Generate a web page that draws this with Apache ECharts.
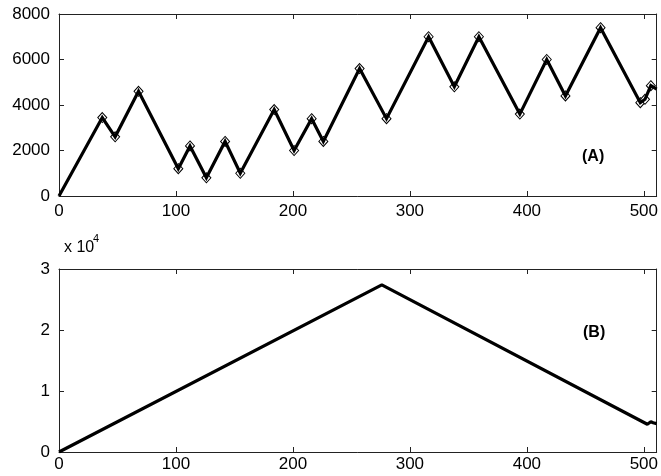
<!DOCTYPE html>
<html>
<head>
<meta charset="utf-8">
<script src="https://cdn.jsdelivr.net/npm/echarts@6/dist/echarts.min.js"></script>
<style>html,body{margin:0;padding:0;background:#fff}#c{width:661px;height:476px}</style>
</head>
<body>
<div id="c"></div>
<script>
// Panel A: turning points of the walk
const xA = [0, 37, 48, 68, 102, 112, 126, 142, 155, 184, 201, 216, 226, 257, 280, 316, 338, 359, 394, 417, 433, 463, 497, 501, 506, 511];
const yA = [0, 3450, 2600, 4600, 1200, 2200, 800, 2400, 1000, 3800, 2000, 3400, 2400, 5600, 3400, 7000, 4800, 7000, 3600, 6000, 4400, 7400, 4100, 4250, 4850, 4700];
// Panel B
const xB = [0, 276, 503, 506, 508, 511];
const yB = [0, 27400, 4550, 4950, 4800, 4650];
// ticks
const xTicks = [0, 100, 200, 300, 400, 500];
const yTicksA = [0, 2000, 4000, 6000, 8000];
const yTicksB = [0, 1, 2, 3];

const FONT = 'Liberation Sans, Arial, sans-serif';
const X_MAX = 511;

const ptsA = xA.map((x, i) => [x, yA[i]]);
const marksA = ptsA.slice(1, ptsA.length - 1);
const ptsB = xB.map((x, i) => [x, yB[i]]);

function xAxes(gridIndex, labelMargin) {
  const base = {
    type: 'value', gridIndex, min: 0, max: X_MAX, interval: 100,
    axisLine: { show: true, onZero: false, lineStyle: { color: '#222', width: 1 } },
    axisTick: { show: true, inside: true, length: 5, lineStyle: { color: '#222' } },
    splitLine: { show: false }
  };
  return [
    Object.assign({}, base, {
      position: 'bottom',
      axisLabel: { show: true, margin: labelMargin, color: '#000', fontSize: 17, fontFamily: FONT,
        showMaxLabel: false,
        formatter: v => (xTicks.indexOf(v) >= 0 ? String(v) : '') }
    }),
    Object.assign({}, base, { position: 'top', axisLabel: { show: false } })
  ];
}
function yAxes(gridIndex, max, interval, fmt) {
  const base = {
    type: 'value', gridIndex, min: 0, max, interval,
    axisLine: { show: true, onZero: false, lineStyle: { color: '#222', width: 1 } },
    axisTick: { show: true, inside: true, length: 5, lineStyle: { color: '#222' } },
    splitLine: { show: false }
  };
  return [
    Object.assign({}, base, {
      position: 'left',
      axisLabel: { show: true, margin: 9, color: '#000', fontSize: 17, fontFamily: FONT, formatter: fmt }
    }),
    Object.assign({}, base, { position: 'right', axisLabel: { show: false } })
  ];
}

const chart = echarts.init(document.getElementById('c'), null, { renderer: 'canvas' });
chart.setOption({
  animation: false,
  backgroundColor: '#fff',
  grid: [
    { left: 59, top: 14, width: 601, height: 182, containLabel: false },
    { left: 59, top: 269, width: 601, height: 183, containLabel: false }
  ],
  xAxis: [...xAxes(0, 7), ...xAxes(1, 4)],
  yAxis: [
    ...yAxes(0, 8000, 2000, v => (yTicksA.indexOf(v) >= 0 ? String(v) : '')),
    ...yAxes(1, 30000, 10000, v => String(yTicksB[v / 10000]))
  ],
  series: [
    {
      type: 'line', xAxisIndex: 0, yAxisIndex: 0, data: marksA,
      symbol: 'diamond', symbolSize: [9, 10], showSymbol: true,
      lineStyle: { width: 0, opacity: 0 },
      itemStyle: { color: '#fff', borderColor: '#000', borderWidth: 1 },
      z: 2, silent: true
    },
    {
      type: 'line', xAxisIndex: 0, yAxisIndex: 0, data: ptsA,
      symbol: 'none', lineStyle: { color: '#000', width: 3.2, join: 'miter' },
      z: 3, silent: true
    },
    {
      type: 'line', xAxisIndex: 2, yAxisIndex: 2, data: ptsB,
      symbol: 'none', lineStyle: { color: '#000', width: 3.2 },
      z: 3, silent: true
    }
  ],
  graphic: [
    { type: 'text', left: 64, top: 240, style: { text: 'x 10', fill: '#000', font: '16px ' + FONT } },
    { type: 'text', left: 93, top: 233, style: { text: '4', fill: '#000', font: '11px ' + FONT } },
    { type: 'text', left: 582, top: 149, style: { text: '(A)', fill: '#000', font: 'bold 16px ' + FONT } },
    { type: 'text', left: 583, top: 325, style: { text: '(B)', fill: '#000', font: 'bold 16px ' + FONT } }
  ]
});
</script>
</body>
</html>
